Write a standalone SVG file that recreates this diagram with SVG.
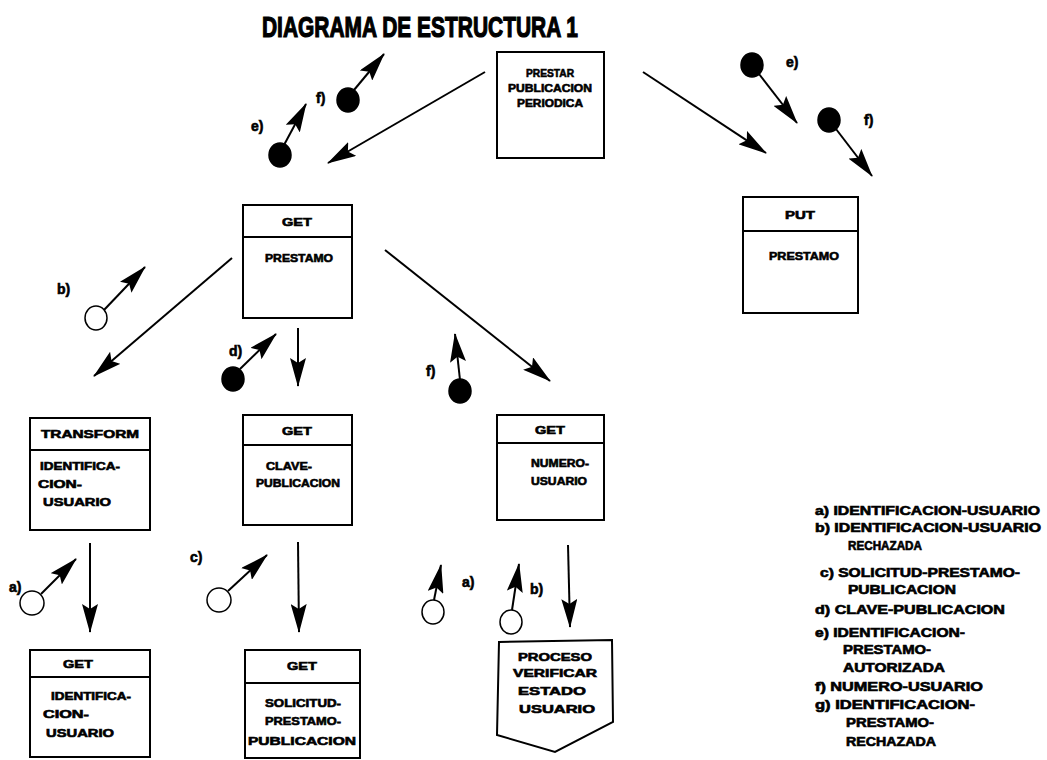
<svg xmlns="http://www.w3.org/2000/svg" width="1047" height="760" viewBox="0 0 1047 760">
<style>
.box{fill:#fff;stroke:#000;stroke-width:2}
.t{font-family:"Liberation Sans",Arial,sans-serif;font-weight:bold;font-size:11px;fill:#000;stroke:#000;stroke-width:0.6;text-anchor:middle}
.lbl{font-family:"Liberation Sans",Arial,sans-serif;font-weight:bold;font-size:14px;fill:#000;stroke:#000;stroke-width:0.6}
.lg{font-family:"Liberation Sans",Arial,sans-serif;font-weight:bold;font-size:12px;fill:#000;stroke:#000;stroke-width:0.6}
.ln{fill:none;stroke:#000;stroke-width:2}
.cf{fill:#000;stroke:#000;stroke-width:1.5}
.co{fill:#fff;stroke:#000;stroke-width:1.5}
</style>
<defs>
<marker id="ah" markerUnits="userSpaceOnUse" markerWidth="30" markerHeight="16" refX="28" refY="8" orient="auto">
<path d="M0,0 L29,8 L0,16 L5,8 Z" fill="#000"/>
</marker>
</defs>
<text x="420" y="37" font-family="Liberation Sans,Arial,sans-serif" font-weight="bold" font-size="29" stroke="#000" stroke-width="1.2" textLength="316" lengthAdjust="spacingAndGlyphs" text-anchor="middle">DIAGRAMA DE ESTRUCTURA 1</text>

<g id="n-prestar">
<rect class="box" x="497" y="52" width="107" height="106"/>
<text class="t" x="550" y="77" textLength="48" lengthAdjust="spacingAndGlyphs">PRESTAR</text>
<text class="t" x="550" y="92" textLength="84" lengthAdjust="spacingAndGlyphs">PUBLICACION</text>
<text class="t" x="550" y="107" textLength="66" lengthAdjust="spacingAndGlyphs">PERIODICA</text>
</g>
<g id="n-get-prestamo">
<rect class="box" x="243" y="205" width="109" height="113"/>
<line class="ln" x1="243" y1="237" x2="352" y2="237"/>
<text class="t" x="297" y="226" textLength="30" lengthAdjust="spacingAndGlyphs">GET</text>
<text class="t" x="299" y="262" textLength="68" lengthAdjust="spacingAndGlyphs">PRESTAMO</text>
</g>
<g id="n-put-prestamo">
<rect class="box" x="743" y="197" width="115" height="116"/>
<line class="ln" x1="743" y1="231" x2="858" y2="231"/>
<text class="t" x="800" y="219" textLength="30" lengthAdjust="spacingAndGlyphs">PUT</text>
<text class="t" x="804" y="260" textLength="70" lengthAdjust="spacingAndGlyphs">PRESTAMO</text>
</g>
<g id="n-transform">
<rect class="box" x="30" y="418" width="120" height="112"/>
<line class="ln" x1="30" y1="450" x2="150" y2="450"/>
<text class="t" x="90" y="438" textLength="98" lengthAdjust="spacingAndGlyphs">TRANSFORM</text>
<text class="t" x="80" y="470" textLength="80" lengthAdjust="spacingAndGlyphs">IDENTIFICA-</text>
<text class="t" x="60" y="488" textLength="44" lengthAdjust="spacingAndGlyphs">CION-</text>
<text class="t" x="77" y="506" textLength="68" lengthAdjust="spacingAndGlyphs">USUARIO</text>
</g>
<g id="n-get-clave">
<rect class="box" x="243" y="415" width="109" height="110"/>
<line class="ln" x1="243" y1="445" x2="352" y2="445"/>
<text class="t" x="297" y="435" textLength="30" lengthAdjust="spacingAndGlyphs">GET</text>
<text class="t" x="289" y="470" textLength="46" lengthAdjust="spacingAndGlyphs">CLAVE-</text>
<text class="t" x="298" y="487" textLength="84" lengthAdjust="spacingAndGlyphs">PUBLICACION</text>
</g>
<g id="n-get-numero">
<rect class="box" x="497" y="415" width="107" height="105"/>
<line class="ln" x1="497" y1="443" x2="604" y2="443"/>
<text class="t" x="550" y="434" textLength="30" lengthAdjust="spacingAndGlyphs">GET</text>
<text class="t" x="560" y="467" textLength="58" lengthAdjust="spacingAndGlyphs">NUMERO-</text>
<text class="t" x="559" y="485" textLength="56" lengthAdjust="spacingAndGlyphs">USUARIO</text>
</g>
<g id="n-get-identif">
<rect class="box" x="30" y="650" width="120" height="107"/>
<line class="ln" x1="30" y1="677" x2="150" y2="677"/>
<text class="t" x="78" y="668" textLength="30" lengthAdjust="spacingAndGlyphs">GET</text>
<text class="t" x="91" y="700" textLength="80" lengthAdjust="spacingAndGlyphs">IDENTIFICA-</text>
<text class="t" x="66" y="718" textLength="46" lengthAdjust="spacingAndGlyphs">CION-</text>
<text class="t" x="80" y="737" textLength="68" lengthAdjust="spacingAndGlyphs">USUARIO</text>
</g>
<g id="n-get-solicitud">
<rect class="box" x="245" y="650" width="115" height="108"/>
<line class="ln" x1="245" y1="683" x2="360" y2="683"/>
<text class="t" x="302" y="670" textLength="30" lengthAdjust="spacingAndGlyphs">GET</text>
<text class="t" x="303" y="707" textLength="76" lengthAdjust="spacingAndGlyphs">SOLICITUD-</text>
<text class="t" x="303" y="725" textLength="76" lengthAdjust="spacingAndGlyphs">PRESTAMO-</text>
<text class="t" x="302" y="745" textLength="108" lengthAdjust="spacingAndGlyphs">PUBLICACION</text>
</g>
<g id="n-proceso">
<path class="box" d="M499,642 L612,640 L613,722 L555,752 L497,735 Z"/>
<text class="t" x="555" y="661" textLength="74" lengthAdjust="spacingAndGlyphs">PROCESO</text>
<text class="t" x="555" y="677" textLength="84" lengthAdjust="spacingAndGlyphs">VERIFICAR</text>
<text class="t" x="552" y="695" textLength="68" lengthAdjust="spacingAndGlyphs">ESTADO</text>
<text class="t" x="557" y="713" textLength="76" lengthAdjust="spacingAndGlyphs">USUARIO</text>
</g>

<g id="connectors">
<line class="ln" x1="485" y1="72" x2="328" y2="163" marker-end="url(#ah)"/>
<line class="ln" x1="643" y1="72" x2="766" y2="153" marker-end="url(#ah)"/>
<line class="ln" x1="232" y1="258" x2="94" y2="376" marker-end="url(#ah)"/>
<line class="ln" x1="298" y1="328" x2="298" y2="386" marker-end="url(#ah)"/>
<line class="ln" x1="385" y1="250" x2="550" y2="381" marker-end="url(#ah)"/>
<line class="ln" x1="90" y1="543" x2="90" y2="632" marker-end="url(#ah)"/>
<line class="ln" x1="298" y1="542" x2="299" y2="632" marker-end="url(#ah)"/>
<line class="ln" x1="568" y1="545" x2="570" y2="627" marker-end="url(#ah)"/>
</g>

<g id="couples">
<ellipse class="cf" cx="280" cy="155" rx="11" ry="12"/>
<line class="ln" x1="284" y1="145" x2="306" y2="104" marker-end="url(#ah)"/>
<ellipse class="cf" cx="348" cy="100" rx="11" ry="12"/>
<line class="ln" x1="354" y1="90" x2="384" y2="54" marker-end="url(#ah)"/>
<ellipse class="cf" cx="752" cy="65" rx="11" ry="12"/>
<line class="ln" x1="759" y1="74" x2="797" y2="123" marker-end="url(#ah)"/>
<ellipse class="cf" cx="829" cy="120" rx="11" ry="12"/>
<line class="ln" x1="836" y1="129" x2="872" y2="176" marker-end="url(#ah)"/>
<ellipse class="co" cx="96" cy="318" rx="11" ry="12"/>
<line class="ln" x1="104" y1="310" x2="145" y2="267" marker-end="url(#ah)"/>
<ellipse class="cf" cx="233" cy="379" rx="11" ry="12"/>
<line class="ln" x1="240" y1="369" x2="276" y2="334" marker-end="url(#ah)"/>
<ellipse class="cf" cx="460" cy="391" rx="11" ry="12"/>
<line class="ln" x1="460" y1="380" x2="455" y2="334" marker-end="url(#ah)"/>
<ellipse class="co" cx="32" cy="603" rx="12" ry="12"/>
<line class="ln" x1="41" y1="594" x2="76" y2="559" marker-end="url(#ah)"/>
<ellipse class="co" cx="219" cy="600" rx="12" ry="12"/>
<line class="ln" x1="228" y1="591" x2="267" y2="555" marker-end="url(#ah)"/>
<ellipse class="co" cx="433" cy="612" rx="11" ry="12"/>
<line class="ln" x1="434" y1="600" x2="441" y2="565" marker-end="url(#ah)"/>
<ellipse class="co" cx="511" cy="622" rx="11" ry="12"/>
<line class="ln" x1="512" y1="610" x2="519" y2="564" marker-end="url(#ah)"/>
</g>

<g id="labels">
<text class="lbl" x="316" y="103">f)</text>
<text class="lbl" x="251" y="131">e)</text>
<text class="lbl" x="786" y="67">e)</text>
<text class="lbl" x="864" y="125">f)</text>
<text class="lbl" x="57" y="294">b)</text>
<text class="lbl" x="229" y="356">d)</text>
<text class="lbl" x="426" y="376">f)</text>
<text class="lbl" x="9" y="592">a)</text>
<text class="lbl" x="190" y="562">c)</text>
<text class="lbl" x="462" y="587">a)</text>
<text class="lbl" x="530" y="594">b)</text>
</g>

<g id="legend">
<text class="lg" x="815" y="515" textLength="225" lengthAdjust="spacingAndGlyphs">a) IDENTIFICACION-USUARIO</text>
<text class="lg" x="815" y="532" textLength="226" lengthAdjust="spacingAndGlyphs">b) IDENTIFICACION-USUARIO</text>
<text class="lg" x="848" y="550" textLength="74" lengthAdjust="spacingAndGlyphs">RECHAZADA</text>
<text class="lg" x="820" y="577" textLength="200" lengthAdjust="spacingAndGlyphs">c) SOLICITUD-PRESTAMO-</text>
<text class="lg" x="848" y="594" textLength="108" lengthAdjust="spacingAndGlyphs">PUBLICACION</text>
<text class="lg" x="815" y="614" textLength="190" lengthAdjust="spacingAndGlyphs">d) CLAVE-PUBLICACION</text>
<text class="lg" x="815" y="637" textLength="150" lengthAdjust="spacingAndGlyphs">e) IDENTIFICACION-</text>
<text class="lg" x="843" y="654" textLength="88" lengthAdjust="spacingAndGlyphs">PRESTAMO-</text>
<text class="lg" x="843" y="672" textLength="102" lengthAdjust="spacingAndGlyphs">AUTORIZADA</text>
<text class="lg" x="815" y="691" textLength="168" lengthAdjust="spacingAndGlyphs">f) NUMERO-USUARIO</text>
<text class="lg" x="815" y="709" textLength="160" lengthAdjust="spacingAndGlyphs">g) IDENTIFICACION-</text>
<text class="lg" x="846" y="727" textLength="88" lengthAdjust="spacingAndGlyphs">PRESTAMO-</text>
<text class="lg" x="846" y="746" textLength="90" lengthAdjust="spacingAndGlyphs">RECHAZADA</text>
</g>
</svg>
